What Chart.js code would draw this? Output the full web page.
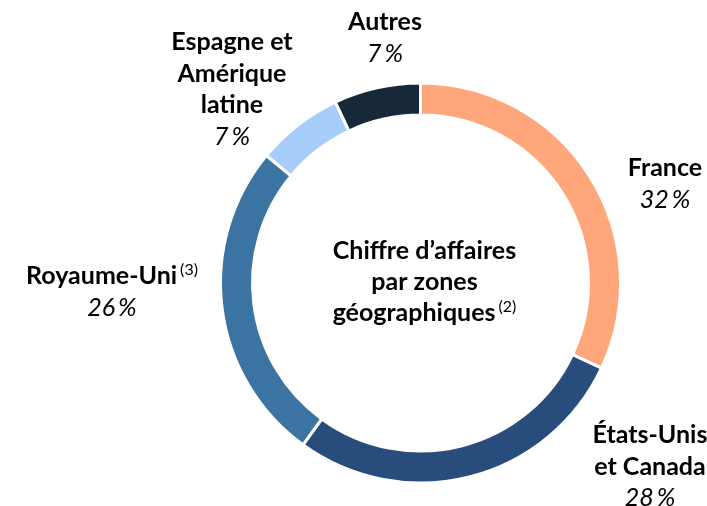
<!DOCTYPE html>
<html>
<head>
<meta charset="utf-8">
<script src="https://cdn.jsdelivr.net/npm/chart.js@4.4.1/dist/chart.umd.min.js"></script>
<style>
  html, body { margin: 0; padding: 0; background: #ffffff; }
  #wrap { width: 707px; height: 506px; }
</style>
</head>
<body>
<div id="wrap"><canvas id="c" width="707" height="506"></canvas></div>
<script>
// ---- Data ----
const categories = ["France", "États-Unis et Canada", "Royaume-Uni", "Espagne et Amérique latine", "Autres"];
const shares = [32, 28, 26, 7, 7];
const labelLines = [["France"], ["États-Unis", "et Canada"], ["Royaume-Uni"], ["Espagne et", "Amérique", "latine"], ["Autres"]];
const labelNotes = ["", "", "(3)", "", ""];
const centerTitle = ["Chiffre d\u2019affaires", "par zones", "géographiques"];
const centerNote = "(2)";
const colors = ["#FFA67B", "#284C7C", "#3B74A2", "#A7CEFB", "#172839"];

// ---- Label layout (anchor: text centre x, first baseline y) ----
const labelAnchors = [
  { x: 665, y: 176 },
  { x: 650, y: 443 },
  { x: 112, y: 284 },
  { x: 232, y: 50 },
  { x: 385, y: 30 }
];
const lineGap = 31.5;

const labelPlugin = {
  id: 'zoneLabels',
  afterDraw(chart) {
    const ctx = chart.ctx;
    const boldFont = 'bold 25px Lato, "Open Sans", sans-serif';
    const italFont = 'italic 25px Lato, "Open Sans", sans-serif';
    const supFont = '16px Lato, "Open Sans", sans-serif';
    ctx.save();
    ctx.fillStyle = '#000000';
    ctx.textBaseline = 'alphabetic';

    function drawLine(text, note, cx, y) {
      ctx.font = boldFont;
      const w = ctx.measureText(text).width;
      let nw = 0;
      if (note) { ctx.font = supFont; nw = ctx.measureText(note).width + 3; }
      const x0 = cx - (w + nw) / 2;
      ctx.font = boldFont;
      ctx.textAlign = 'left';
      ctx.fillText(text, x0, y);
      if (note) {
        ctx.font = supFont;
        ctx.fillText(note, x0 + w + 3, y - 9);
      }
    }

    categories.forEach((cat, i) => {
      const a = labelAnchors[i];
      const lines = labelLines[i];
      lines.forEach((ln, j) => {
        drawLine(ln, j === lines.length - 1 ? labelNotes[i] : "", a.x, a.y + j * lineGap);
      });
      ctx.font = italFont;
      ctx.textAlign = 'center';
      ctx.fillText(shares[i] + '\u2009%', a.x, a.y + lines.length * lineGap);
    });

    // centre title
    const meta = chart.getDatasetMeta(0);
    const arc = meta.data[0];
    const cx = arc.x, cy = arc.y;
    const startY = cy - 24;
    centerTitle.forEach((ln, j) => {
      drawLine(ln, j === centerTitle.length - 1 ? centerNote : "", cx + 4, startY + j * 31);
    });
    ctx.restore();
  }
};

new Chart(document.getElementById('c'), {
  type: 'doughnut',
  data: {
    labels: categories,
    datasets: [{
      data: shares,
      backgroundColor: colors,
      borderColor: '#ffffff',
      borderWidth: 3,
      hoverOffset: 0
    }]
  },
  options: {
    responsive: false,
    animation: false,
    cutout: '84%',
    rotation: 0,
    layout: { padding: { left: 219, right: 85, top: 81, bottom: 21 } },
    plugins: {
      legend: { display: false },
      tooltip: { enabled: false }
    }
  },
  plugins: [labelPlugin]
});
</script>
</body>
</html>
